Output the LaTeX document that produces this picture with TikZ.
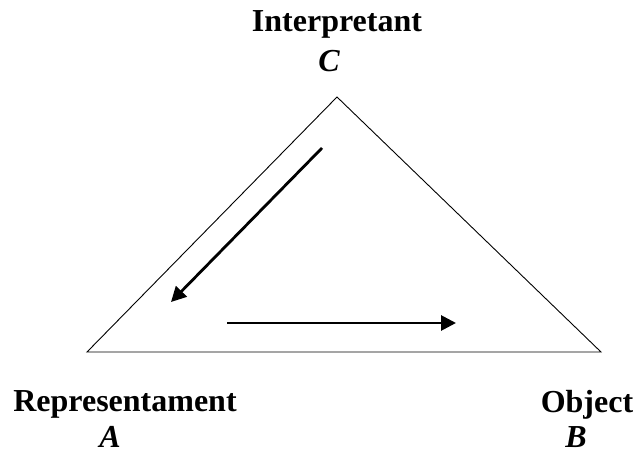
\documentclass[tikz,border=0pt]{standalone}
\usepackage{fontspec}
\setmainfont{Liberation Serif}
\usetikzlibrary{arrows.meta}
\begin{document}
\begin{tikzpicture}[x=1pt,y=1pt,
  lbl/.style={font=\fontsize{32}{38}\selectfont\bfseries, anchor=base, inner sep=0pt},
  ilbl/.style={font=\fontsize{32}{38}\selectfont\bfseries\itshape, anchor=base, inner sep=0pt},
  tri/.style={draw=black, line width=0.9pt, line join=miter},
  flow/.style={draw=black, line width=2.8pt, -{Triangle[length=15pt,width=15pt]}}]
\useasboundingbox (0,0) rectangle (638,455);
\coordinate (apex) at (337,358);
\coordinate (bl) at (87,103);
\coordinate (br) at (601,103);
\draw[tri] (apex) -- (bl) -- (br) -- cycle;
\coordinate (a1s) at (322,307);
\coordinate (a1e) at (171,153);
\coordinate (a2s) at (227,132);
\coordinate (a2e) at (456,132);
\draw[flow] (a1s) -- (a1e);
\draw[flow] (a2s) -- (a2e);
\node[lbl] (interp) at (337,423) {Interpretant};
\node[ilbl] (c) at (329,383) {C};
\node[lbl] (repr) at (125,43) {Representament};
\node[ilbl] (a) at (110,7) {A};
\node[lbl] (obj) at (587,42) {Object};
\node[ilbl] (b) at (576,7) {B};
\end{tikzpicture}
\end{document}
